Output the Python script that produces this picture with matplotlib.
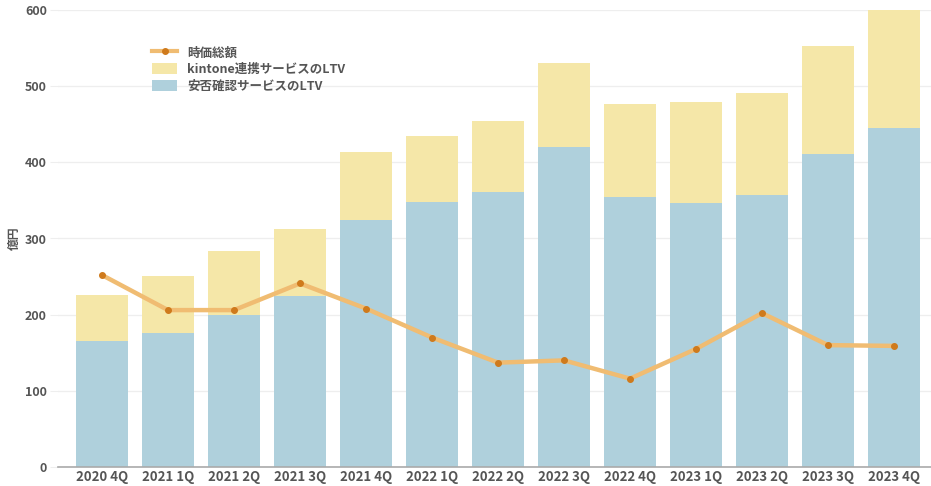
import matplotlib
matplotlib.use("Agg")
import matplotlib.pyplot as plt
from matplotlib.lines import Line2D
from matplotlib.patches import Patch

plt.rcParams['font.family'] = ['Noto Sans CJK JP', 'DejaVu Sans']

categories = ["2020 4Q", "2021 1Q", "2021 2Q", "2021 3Q", "2021 4Q", "2022 1Q", "2022 2Q",
              "2022 3Q", "2022 4Q", "2023 1Q", "2023 2Q", "2023 3Q", "2023 4Q"]
anpi_ltv = [165, 176, 200, 225, 324, 348, 361, 420, 355, 346, 357, 411, 445]
total_ltv = [226, 251, 283, 312, 414, 435, 454, 530, 477, 479, 491, 553, 600]
kintone_ltv = [t - a for t, a in zip(total_ltv, anpi_ltv)]
market_cap = [252, 206, 206, 241, 208, 170, 137, 140, 116, 155, 202, 160, 159]

blue = "#afd0dc"
yellow = "#f5e7a8"
line_c = "#f0bc72"
marker_c = "#cf7a1c"
text_c = "#555555"

fig = plt.figure(figsize=(9.31, 4.86), dpi=100)
ax = fig.add_axes([58/931, 19/486, 873/931, 457/486])

x = list(range(len(categories)))
ax.bar(x, anpi_ltv, width=0.79, color=blue, zorder=2)
ax.bar(x, kintone_ltv, bottom=anpi_ltv, width=0.79, color=yellow, zorder=2)
ax.plot(x, market_cap, color=line_c, lw=3.2, zorder=3, solid_capstyle='round')
ax.plot(x, market_cap, 'o', color=marker_c, ms=4, zorder=4)

ax.set_xlim(-0.667, 12.56)
ax.set_ylim(0, 600)
ax.set_yticks([0, 100, 200, 300, 400, 500, 600])
ax.set_xticks(x)
ax.set_xticklabels(categories)
ax.grid(axis='y', color='#eeeeee', lw=0.9, zorder=0)
ax.set_axisbelow(True)
for s in ['top', 'right', 'left']:
    ax.spines[s].set_visible(False)
ax.spines['bottom'].set_color('#aaaaaa')
ax.spines['bottom'].set_linewidth(1.2)
ax.tick_params(axis='y', length=6, color='#eeeeee', labelsize=9, labelcolor=text_c, pad=2)
ax.tick_params(axis='x', length=0, labelsize=9.5, labelcolor=text_c, pad=2)
for lbl in ax.get_xticklabels() + ax.get_yticklabels():
    lbl.set_fontweight('bold')
ax.set_ylabel("億円", fontsize=8.5, color=text_c, labelpad=3, fontweight='bold')

handles = [
    Line2D([0], [0], color=line_c, lw=3, marker='o', markersize=4,
           markerfacecolor=marker_c, markeredgecolor=marker_c),
    Patch(facecolor=yellow, edgecolor='none'),
    Patch(facecolor=blue, edgecolor='none'),
]
labels = ["時価総額", "kintone連携サービスのLTV", "安否確認サービスのLTV"]
leg = ax.legend(handles, labels, loc='upper left', bbox_to_anchor=(0.095, 0.945),
                frameon=False, fontsize=9, handlelength=2.0, handleheight=1.0,
                labelspacing=0.3, handletextpad=0.8)
for t in leg.get_texts():
    t.set_color(text_c)
    t.set_fontweight('bold')

fig.savefig("out.png", dpi=100, facecolor='white')
